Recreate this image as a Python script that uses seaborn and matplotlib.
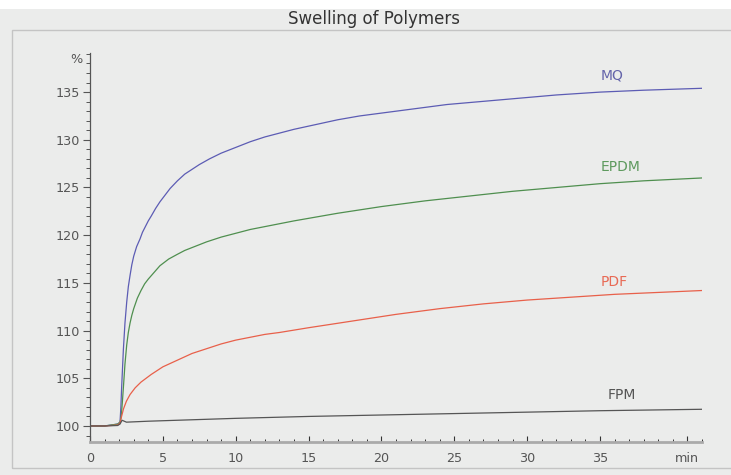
import numpy as np
import pandas as pd
import matplotlib
matplotlib.use("Agg")
import matplotlib.pyplot as plt
import matplotlib.patches as mpatches
from matplotlib.ticker import MultipleLocator, FixedLocator
import seaborn as sns

# ---- data ----
mq_x = [0, 1, 1.9, 2.06, 2.12, 2.17, 2.23, 2.29, 2.4, 2.52, 2.63, 2.75, 2.87, 3.0, 3.2, 3.43,
        3.6, 3.8, 4.0, 4.2, 4.5, 4.8, 5.1, 5.5, 6.0, 6.5, 7.0, 7.5, 8.2, 9, 10, 11, 12, 13,
        14, 15.5, 17, 18.5, 20, 21.5, 23, 24.5, 26, 27.5, 29, 30.5, 32, 33.5, 35, 36.5, 38,
        40, 42]
mq_y = [100.0, 100.0, 100.2, 100.4, 102.0, 104.0, 106.0, 108.0, 110.8, 113.0, 114.6, 115.8,
        116.9, 117.8, 118.8, 119.6, 120.3, 120.9, 121.5, 122.0, 122.8, 123.5, 124.1, 124.9,
        125.7, 126.4, 126.9, 127.4, 128.0, 128.6, 129.2, 129.8, 130.3, 130.7, 131.1, 131.6,
        132.1, 132.5, 132.8, 133.1, 133.4, 133.7, 133.9, 134.1, 134.3, 134.5, 134.7, 134.85,
        135.0, 135.1, 135.2, 135.3, 135.4]

epdm_x = [0, 1, 1.9, 2.06, 2.12, 2.17, 2.23, 2.29, 2.4, 2.52, 2.63, 2.75, 2.87, 3.0, 3.25,
          3.5, 3.75, 4, 4.4, 4.8, 5.4, 6, 6.5, 7, 7.5, 8, 9, 10, 11, 12, 13, 14, 15.5, 17,
          18.5, 20, 21.5, 23, 24.5, 26, 27.5, 29, 30.5, 32, 33.5, 35, 36.5, 38, 40, 42]
epdm_y = [100.0, 100.0, 100.2, 100.4, 100.8, 101.5, 102.7, 104.0, 106.5, 108.5, 109.8, 110.8,
          111.6, 112.3, 113.4, 114.2, 114.9, 115.4, 116.1, 116.8, 117.5, 118.0, 118.4, 118.7,
          119.0, 119.3, 119.8, 120.2, 120.6, 120.9, 121.2, 121.5, 121.9, 122.3, 122.65, 123.0,
          123.3, 123.6, 123.85, 124.1, 124.35, 124.6, 124.8, 125.0, 125.2, 125.4, 125.55,
          125.7, 125.85, 126.0]

pdf_x = [0, 1, 1.9, 2.06, 2.15, 2.3, 2.5, 2.75, 3.1, 3.5, 4.2, 5, 6, 7, 8, 9, 10, 11, 12, 13,
         14, 15, 16.5, 18, 19.5, 21, 22.5, 24, 25.5, 27, 28.5, 30, 31.5, 33, 34.5, 36, 37.5,
         39, 40.5, 42]
pdf_y = [100.0, 100.0, 100.1, 100.3, 100.9, 101.8, 102.6, 103.3, 104.0, 104.6, 105.4, 106.2,
         106.9, 107.6, 108.1, 108.6, 109.0, 109.3, 109.6, 109.8, 110.05, 110.3, 110.65, 111.0,
         111.35, 111.7, 112.0, 112.3, 112.55, 112.8, 113.0, 113.2, 113.35, 113.5, 113.65,
         113.8, 113.9, 114.0, 114.1, 114.2]

fpm_x = [0, 1, 1.9, 2.06, 2.2, 2.5, 4, 7, 10, 15, 20, 25, 30, 35, 42]
fpm_y = [100.0, 100.0, 100.05, 100.2, 100.6, 100.4, 100.5, 100.65, 100.8, 101.0, 101.15,
         101.3, 101.45, 101.6, 101.75]

series_names = ["MQ", "EPDM", "PDF", "FPM"]
series_colors = ["#5c5cb4", "#4f8f4f", "#e8604a", "#555555"]
label_colors = ["#6464aa", "#5e9a5e", "#e86a55", "#555555"]
label_pos = [(35.8, 136.7), (36.4, 127.1), (36.0, 115.1), (36.5, 103.25)]

x_major = [0, 5, 10, 15, 20, 25, 30, 35, 41]
x_labels = ["0", "5", "10", "15", "20", "25", "30", "35", "min"]
y_major = [100, 105, 110, 115, 120, 125, 130, 135]
y_labels = ["100", "105", "110", "115", "120", "125", "130", "135"]

title = "Swelling of Polymers"

# ---- build long-form table ----
frames = []
for name, xs, ys in zip(series_names, [mq_x, epdm_x, pdf_x, fpm_x], [mq_y, epdm_y, pdf_y, fpm_y]):
    frames.append(pd.DataFrame({"t": xs, "v": ys, "polymer": name}))
df = pd.concat(frames, ignore_index=True)

sns.set_style("ticks")
plt.rcParams["font.family"] = ["DejaVu Sans"]

W, H = 731, 475
bg = "#ebeceb"
fig = plt.figure(figsize=(W / 100, H / 100), dpi=100, facecolor=bg)

# top white strip and inner frame
fig.patches.append(mpatches.Rectangle((0, 1 - 9 / H), 1, 9 / H, transform=fig.transFigure,
                                      facecolor="white", edgecolor="none", zorder=0))
fig.patches.append(mpatches.Rectangle((12 / W, 1 - 468 / H), 1.2, (468 - 30) / H,
                                      transform=fig.transFigure, facecolor="none",
                                      edgecolor="#c4c4c4", linewidth=1.0, zorder=1))
fig.text(374 / W, 1 - 19 / H, title, ha="center", va="center", fontsize=12, color="#333333")

left, right, top, bottom = 90, 702, 53, 442
ax = fig.add_axes([left / W, 1 - bottom / H, (right - left) / W, (bottom - top) / H])
ax.set_facecolor(bg)

sns.lineplot(data=df, x="t", y="v", hue="polymer", palette=dict(zip(series_names, series_colors)),
             hue_order=series_names, linewidth=0.9, legend=False, ax=ax, sort=False,
             estimator=None)

ax.set_xlim(0, 42)
ax.set_ylim(98.32, 139.1)
ax.set_xlabel("")
ax.set_ylabel("")

for sp in ["top", "right"]:
    ax.spines[sp].set_visible(False)
ax.spines["left"].set_color("#555555")
ax.spines["left"].set_linewidth(0.9)
ax.spines["bottom"].set_color("#aaaaaa")
ax.spines["bottom"].set_linewidth(2.0)

ax.xaxis.set_major_locator(FixedLocator(x_major))
ax.set_xticklabels(x_labels)
ax.xaxis.set_minor_locator(MultipleLocator(1))
ax.yaxis.set_major_locator(FixedLocator(y_major))
ax.set_yticklabels(y_labels)
ax.yaxis.set_minor_locator(MultipleLocator(1))

ax.tick_params(axis="x", which="major", direction="in", length=4, width=0.8, color="#333333",
               labelsize=9.2, labelcolor="#555555", pad=7)
ax.tick_params(axis="x", which="minor", direction="in", length=2.5, width=0.7, color="#333333")
ax.tick_params(axis="y", which="major", direction="out", length=5, width=0.8, color="#555555",
               labelsize=9.2, labelcolor="#555555", pad=2)
ax.tick_params(axis="y", which="minor", direction="out", length=3, width=0.7, color="#555555")

ax.text(-0.012, 138.4, "%", transform=ax.get_yaxis_transform(), ha="right", va="center",
        fontsize=9.2, color="#555555")

for name, (lx, ly), c in zip(series_names, label_pos, label_colors):
    ax.text(lx, ly, name, ha="center", va="center", fontsize=10, color=c)

fig.savefig("out.png", dpi=100, facecolor=bg)
